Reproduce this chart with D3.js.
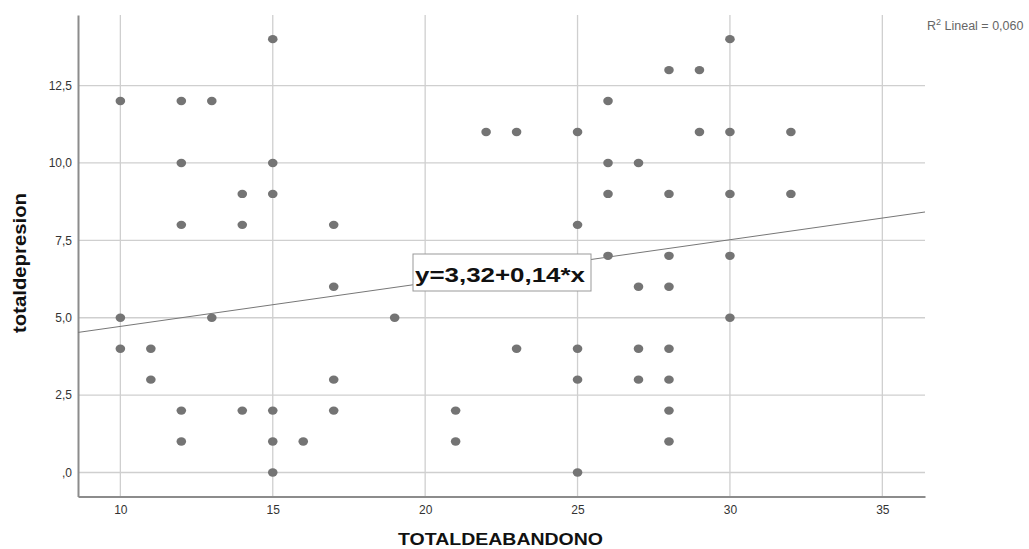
<!DOCTYPE html>
<html><head><meta charset="utf-8">
<script src="https://cdn.jsdelivr.net/npm/d3@7"></script>
<style>body{margin:0;background:#fff}svg{display:block}</style>
</head><body>
<svg id="c" width="1029" height="549"></svg>
<script>
const xTicks = [10, 15, 20, 25, 30, 35];
const yTicks = [0, 2.5, 5, 7.5, 10, 12.5];
const abandono = [10,10,10, 11,11, 12,12,12,12,12, 13,13, 14,14,14, 15,15,15,15,15,15, 16, 17,17,17,17, 19, 21,21, 22, 23,23, 25,25,25,25,25, 26,26,26,26, 27,27,27,27, 28,28,28,28,28,28,28,28, 29,29, 30,30,30,30,30, 32,32];
const depresion = [12,5,4, 4,3, 12,10,8,2,1, 12,5, 9,8,2, 14,10,9,2,1,0, 1, 8,6,3,2, 5, 2,1, 11, 11,4, 11,8,4,3,0, 12,10,9,7, 10,6,4,3, 13,9,7,6,4,3,2,1, 13,11, 14,11,9,7,5, 11,9];
const intercept = 3.32, slope = 0.14;
const eqLabel = "y=3,32+0,14*x";
const r2Label = "0,060";

const svg = d3.select("#c");
const FF = "Arial, 'Liberation Sans', sans-serif";
const L = 78, R = 925, T = 15, B = 496.5;
const x = d3.scaleLinear().domain([8.61, 36.4]).range([L, R]);
const y = d3.scaleLinear().domain([-0.775, 14.78]).range([B, T]);
const fmt = v => v === 0 ? ",0" : d3.format(".1f")(v).replace(".", ",");

// gridlines
svg.append("g").selectAll("line").data(xTicks).join("line")
  .attr("x1", d => x(d)).attr("x2", d => x(d)).attr("y1", T).attr("y2", B)
  .attr("stroke", "#cfcfcf").attr("stroke-width", 1.3);
svg.append("g").selectAll("line").data(yTicks).join("line")
  .attr("x1", L).attr("x2", R).attr("y1", d => y(d)).attr("y2", d => y(d))
  .attr("stroke", "#cfcfcf").attr("stroke-width", 1.3);

// axes
const xa = svg.append("g").attr("transform", `translate(0,${B})`)
  .call(d3.axisBottom(x).tickValues(xTicks).tickSize(0).tickPadding(9).tickFormat(d3.format("d")));
const ya = svg.append("g").attr("transform", `translate(${L},0)`)
  .call(d3.axisLeft(y).tickValues(yTicks).tickSize(0).tickPadding(6).tickFormat(fmt));
[xa, ya].forEach(a => {
  a.select(".domain").attr("stroke", "#8c8c8c").attr("stroke-width", 2);
  a.selectAll("text").attr("font-family", FF).attr("font-size", 12).attr("fill", "#333");
});

// points
svg.append("g").selectAll("ellipse").data(abandono.map((a, i) => [a, depresion[i]])).join("ellipse")
  .attr("cx", d => x(d[0])).attr("cy", d => y(d[1])).attr("rx", 4.8).attr("ry", 4.2)
  .attr("fill", "#747474");

// regression line
const xd = x.domain();
svg.append("line")
  .attr("x1", x(xd[0])).attr("y1", y(intercept + slope * xd[0]))
  .attr("x2", x(xd[1])).attr("y2", y(intercept + slope * xd[1]))
  .attr("stroke", "#777").attr("stroke-width", 1);

// equation label
const eqX = 413, eqY = 254;
svg.append("rect").attr("x", eqX).attr("y", eqY).attr("width", 178).attr("height", 37)
  .attr("fill", "#fff").attr("stroke", "#999").attr("stroke-width", 1);
svg.append("text").attr("x", eqX + 2).attr("y", eqY + 28)
  .attr("textLength", 170).attr("lengthAdjust", "spacingAndGlyphs")
  .attr("font-family", FF).attr("font-weight", "bold")
  .attr("font-size", 21).attr("fill", "#111").text(eqLabel);

// R2 label
const r2 = svg.append("text").attr("x", 927).attr("y", 30)
  .attr("font-family", FF).attr("font-size", 12.5).attr("fill", "#666");
r2.append("tspan").text("R");
r2.append("tspan").attr("dy", -5).attr("font-size", 9).text("2");
r2.append("tspan").attr("dy", 5).text(" Lineal = " + r2Label);

// axis titles
svg.append("text").attr("x", 398).attr("y", 545)
  .attr("textLength", 205).attr("lengthAdjust", "spacingAndGlyphs")
  .attr("font-family", FF).attr("font-weight", "bold")
  .attr("font-size", 17).attr("fill", "#111").text("TOTALDEABANDONO");
svg.append("text").attr("transform", `translate(26,333) rotate(-90)`)
  .attr("textLength", 140).attr("lengthAdjust", "spacingAndGlyphs")
  .attr("font-family", FF).attr("font-weight", "bold")
  .attr("font-size", 18).attr("fill", "#111").text("totaldepresion");
</script>
</body></html>
